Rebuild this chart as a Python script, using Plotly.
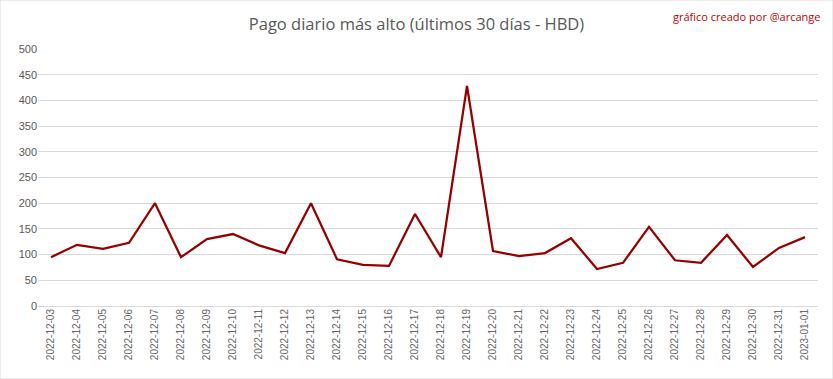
import plotly.graph_objects as go

dates = ["2022-12-03","2022-12-04","2022-12-05","2022-12-06","2022-12-07","2022-12-08",
         "2022-12-09","2022-12-10","2022-12-11","2022-12-12","2022-12-13","2022-12-14",
         "2022-12-15","2022-12-16","2022-12-17","2022-12-18","2022-12-19","2022-12-20",
         "2022-12-21","2022-12-22","2022-12-23","2022-12-24","2022-12-25","2022-12-26",
         "2022-12-27","2022-12-28","2022-12-29","2022-12-30","2022-12-31","2023-01-01"]
values = [95, 119, 111, 123, 200, 95, 130, 140, 118, 103, 200, 91, 80, 78, 179, 95, 428, 107,
          97, 103, 132, 72, 84, 154, 89, 84, 138, 76, 113, 134]
y_ticks = [0, 50, 100, 150, 200, 250, 300, 350, 400, 450, 500]

title_text = "Pago diario más alto (últimos 30 días - HBD)"
credit_text = "gráfico creado por @arcange"

fig = go.Figure()
fig.add_trace(go.Scatter(x=dates, y=values, mode="lines",
                         line=dict(color="#960000", width=2.25), showlegend=False))

fig.update_layout(
    width=833, height=379,
    margin=dict(l=38, r=15, t=49, b=73),
    paper_bgcolor="white", plot_bgcolor="white",
    font=dict(family="Liberation Sans, Arial, sans-serif", color="#595959", size=11),
    title=dict(text=title_text, x=0.5, xanchor="center", y=0.937, yanchor="middle",
               font=dict(family="Open Sans, sans-serif", size=16.5, color="#595959")),
    xaxis=dict(type="category", range=[-0.5, len(dates) - 0.5], tickangle=-90,
               showgrid=False, showline=False, ticks="", zeroline=False,
               tickfont=dict(size=10, color="#666666")),
    yaxis=dict(range=[0, 500], tickvals=y_ticks, showgrid=True, gridcolor="#D9D9D9",
               gridwidth=1, zeroline=True, zerolinecolor="#D9D9D9", zerolinewidth=1,
               showline=False, ticks="", tickfont=dict(size=11, color="#595959")),
    annotations=[dict(text=credit_text, xref="paper", yref="paper", x=1.0, y=1.0,
                      xanchor="right", yanchor="middle", yshift=33, xshift=5, showarrow=False,
                      font=dict(family="Open Sans, sans-serif", size=11, color="#C00000"))],
    shapes=[dict(type="rect", xref="paper", yref="paper", x0=-38/780, x1=1+15/780,
                 y0=-73/257, y1=1+49/257,
                 line=dict(color="#D9D9D9", width=1), fillcolor="rgba(0,0,0,0)")],
)

fig.write_html("out.html")
